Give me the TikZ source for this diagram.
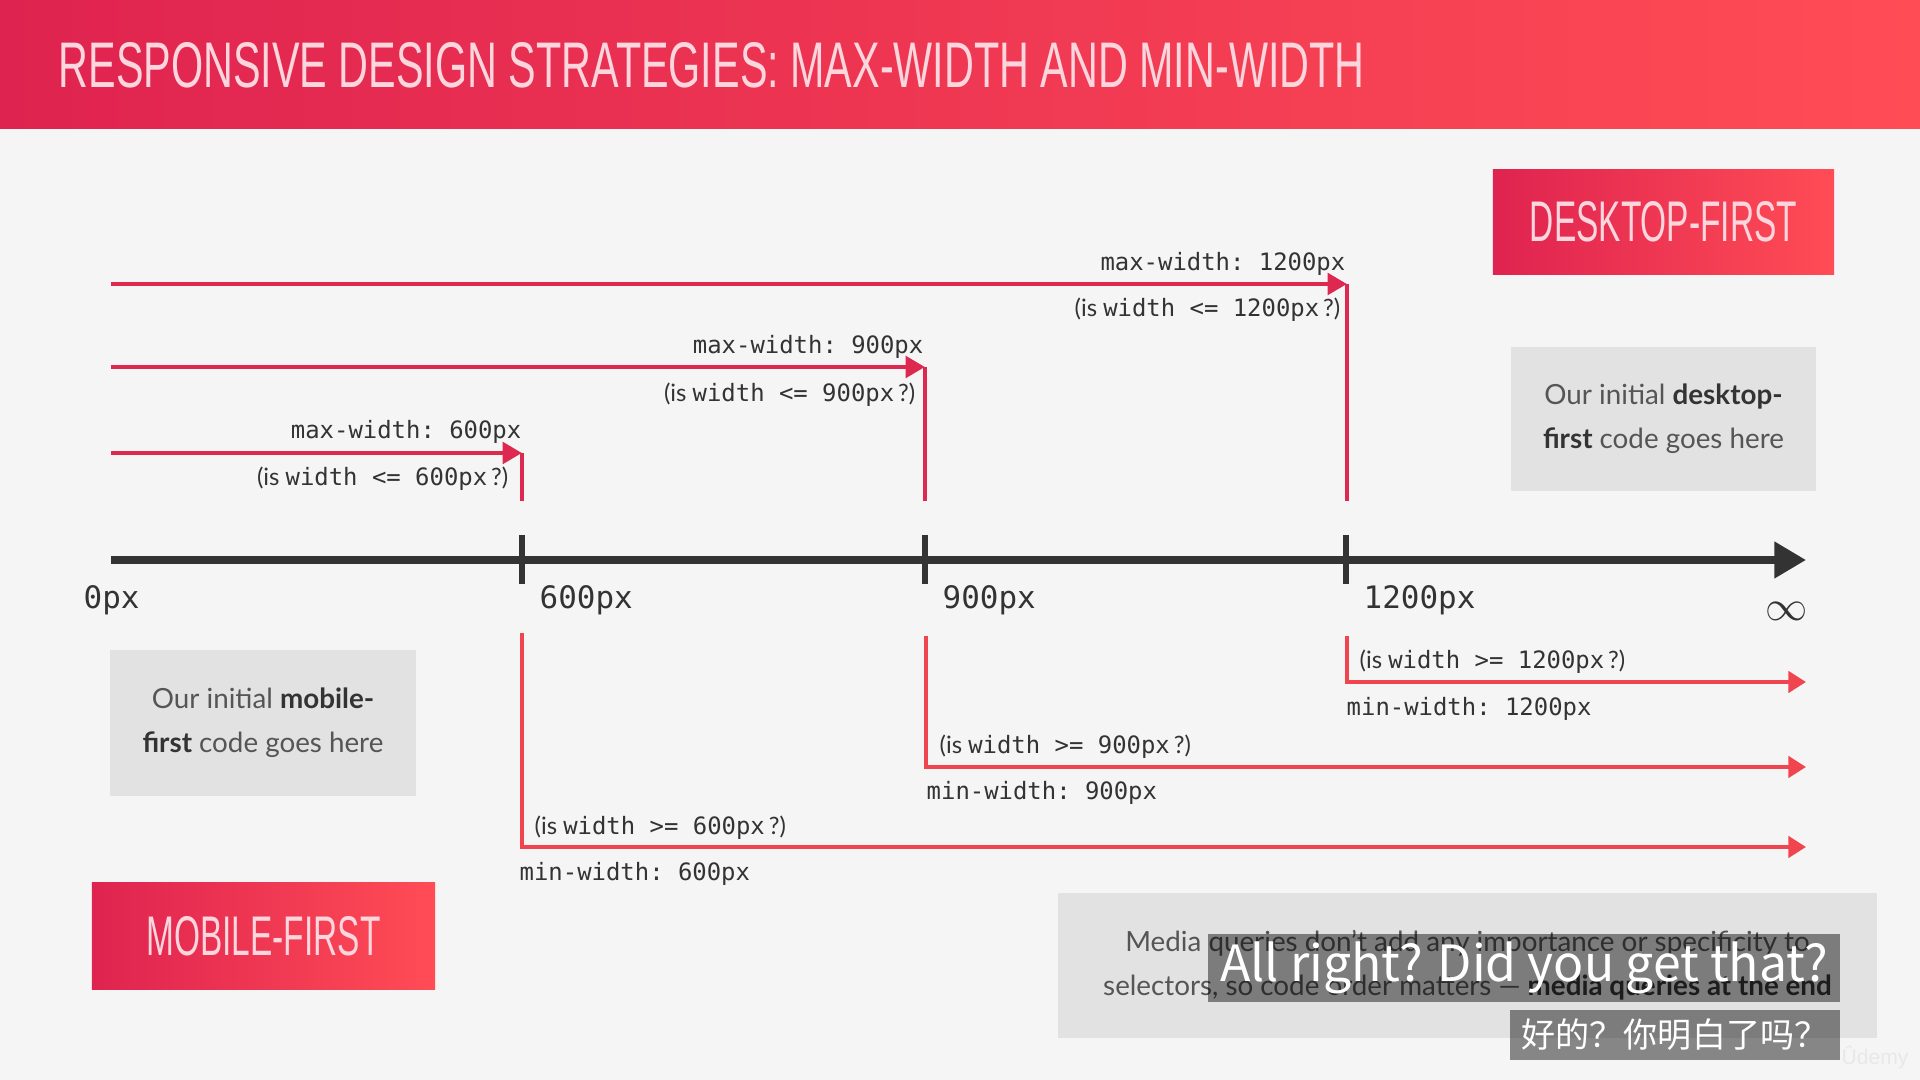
\documentclass[tikz,border=0pt]{standalone}
\usepackage{fontspec}
\usepackage{xcolor}
\usetikzlibrary{arrows.meta, positioning}
\setmainfont{Lato}
\setmonofont{DejaVu Sans Mono}
\newfontfamily\headfont{Liberation Sans}
\newfontfamily\subfont{Noto Sans CJK SC}
\definecolor{bgcol}{HTML}{F5F5F5}
\definecolor{redleft}{HTML}{DF2350}
\definecolor{redright}{HTML}{FF4C55}
\definecolor{maxred}{HTML}{DD2850}
\definecolor{minred}{HTML}{F0454F}
\definecolor{axiscol}{HTML}{333333}
\definecolor{boxgray}{HTML}{E2E2E2}
\definecolor{txtgray}{HTML}{555555}
\definecolor{headtxt}{HTML}{FCD5DD}
\newcommand{\isq}[1]{{\rmfamily(is\ }width\ #1\,{\rmfamily?)}}

\begin{document}
\begin{tikzpicture}[x=0.01cm, y=-0.01cm,
		maxline/.style={maxred, line width=1.4pt},
		minline/.style={minred, line width=1.15pt},
		maxtip/.style={-{Triangle[length=5.5pt,width=6pt]}},
		mintip/.style={-{Triangle[length=5pt,width=6pt]}},
		codelbl/.style={font=\ttfamily\fontsize{6.8}{8}\selectfont, text=axiscol, inner sep=0},
		ticklbl/.style={font=\ttfamily\fontsize{8.8}{10}\selectfont, text=axiscol, inner sep=0},
		notebox/.style={fill=boxgray, text=txtgray, align=center, font=\fontsize{7.9}{12.5}\selectfont, inner sep=0},
		redbox/.style={left color=redleft, right color=redright, text=headtxt, inner sep=0},
		subbox/.style={fill=black, fill opacity=0.45, text opacity=1, text=white, inner sep=0, font=\subfont}]
			\useasboundingbox (0,0) rectangle (1920,1080);
			\fill[bgcol] (0,0) rectangle (1920,1080);
			\shade[left color=redleft, right color=redright] (0,0) rectangle (1920,129);
			\node[anchor=base west, inner sep=0, text=headtxt] (title) at (58,88) {\resizebox{13.05cm}{0.45cm}{\headfont RESPONSIVE DESIGN STRATEGIES: MAX-WIDTH AND MIN-WIDTH}};
			
			\node[redbox, minimum width=3.41cm, minimum height=1.04cm] (deskfirst) at (1663.5,222) {\resizebox{2.67cm}{0.40cm}{\headfont DESKTOP-FIRST}};
			\node[redbox, minimum width=3.43cm, minimum height=1.06cm] (mobfirst) at (263.5,936) {\resizebox{2.34cm}{0.39cm}{\headfont MOBILE-FIRST}};
			
			\node[notebox, minimum width=3.05cm, minimum height=1.44cm] (deskcode) at (1663.5,419) {Our initial \textbf{\color{axiscol}desktop-}\\\textbf{\color{axiscol}first} code goes here};
			\node[notebox, minimum width=3.06cm, minimum height=1.46cm] (mobcode) at (263,723) {Our initial \textbf{\color{axiscol}mobile-}\\\textbf{\color{axiscol}first} code goes here};
			\node[notebox, minimum width=8.19cm, minimum height=1.45cm] (orderbox) at (1467.5,965.5) {Media queries don’t add any importance or specificity to\\selectors, so code order matters — \textbf{\color{axiscol}media queries at the end}};
			
			\coordinate (zero) at (111,560);
			\coordinate (t600) at (522,560);
			\coordinate (t900) at (925,560);
			\coordinate (t1200) at (1346,560);
			\coordinate (inf) at (1806,560);
			\draw[axiscol, line width=2pt, -{Triangle[length=9pt,width=10pt]}] (zero) -- (inf);
			\draw[axiscol, line width=1.9pt] ([yshift=0.25cm]t600) -- ([yshift=-0.24cm]t600);
			\draw[axiscol, line width=1.9pt] ([yshift=0.25cm]t900) -- ([yshift=-0.24cm]t900);
			\draw[axiscol, line width=1.9pt] ([yshift=0.25cm]t1200) -- ([yshift=-0.24cm]t1200);
			
			\node[ticklbl, anchor=base west] (l0) at (83,609) {0px};
			\node[ticklbl, anchor=base west] (l600) at (539,609) {600px};
			\node[ticklbl, anchor=base west] (l900) at (942,609) {900px};
			\node[ticklbl, anchor=base west] (l1200) at (1363,609) {1200px};
			\node[font=\fontsize{12}{12}\selectfont, text=axiscol, inner sep=0] (linf) at (1787,611) {$\infty$};
			
			\coordinate (x600s) at (111,453);
			\coordinate (x600e) at (522,453);
			\coordinate (x600d) at (522,501);
			\draw[maxline, maxtip] (x600s) -- (x600e);
			\draw[maxline] (x600e) -- (x600d);
			\node[codelbl, anchor=base east] (x600lbl) at (522,439) {max-width: 600px};
			\node[codelbl, anchor=base east] (x600q) at (509,486) {\isq{<= 600px}};
			
			\coordinate (x900s) at (111,367);
			\coordinate (x900e) at (925,367);
			\coordinate (x900d) at (925,501);
			\draw[maxline, maxtip] (x900s) -- (x900e);
			\draw[maxline] (x900e) -- (x900d);
			\node[codelbl, anchor=base east] (x900lbl) at (924,354) {max-width: 900px};
			\node[codelbl, anchor=base east] (x900q) at (916,402) {\isq{<= 900px}};
			
			\coordinate (x1200s) at (111,284);
			\coordinate (x1200e) at (1347,284);
			\coordinate (x1200d) at (1347,501);
			\draw[maxline, maxtip] (x1200s) -- (x1200e);
			\draw[maxline] (x1200e) -- (x1200d);
			\node[codelbl, anchor=base east] (x1200lbl) at (1346,271) {max-width: 1200px};
			\node[codelbl, anchor=base east] (x1200q) at (1341,317) {\isq{<= 1200px}};
			
			\coordinate (n600t) at (522,633);
			\coordinate (n600c) at (522,847);
			\coordinate (n600e) at (1806,847);
			\draw[minline, mintip] (n600t) -- (n600c) -- (n600e);
			\node[codelbl, anchor=base west] (n600q) at (534,835) {\isq{>= 600px}};
			\node[codelbl, anchor=base west] (n600lbl) at (519,881) {min-width: 600px};
			
			\coordinate (n900t) at (926,636);
			\coordinate (n900c) at (926,767);
			\coordinate (n900e) at (1806,767);
			\draw[minline, mintip] (n900t) -- (n900c) -- (n900e);
			\node[codelbl, anchor=base west] (n900q) at (939,754) {\isq{>= 900px}};
			\node[codelbl, anchor=base west] (n900lbl) at (926,800) {min-width: 900px};
			
			\coordinate (n1200t) at (1347,636);
			\coordinate (n1200c) at (1347,682);
			\coordinate (n1200e) at (1806,682);
			\draw[minline, mintip] (n1200t) -- (n1200c) -- (n1200e);
			\node[codelbl, anchor=base west] (n1200q) at (1359,669) {\isq{>= 1200px}};
			\node[codelbl, anchor=base west] (n1200lbl) at (1346,716) {min-width: 1200px};
			
			\node[subbox, minimum width=6.32cm, minimum height=0.68cm, font=\subfont\fontsize{14.2}{14}\selectfont] (suben) at (1524,968) {All right? Did you get that?};
			\node[subbox, minimum width=3.30cm, minimum height=0.50cm, font=\subfont\fontsize{9.7}{10}\selectfont] (subzh) at (1675,1035) {好的？你明白了吗？};
			\node[font=\headfont\fontsize{6}{7}\selectfont, text=white!82!gray, inner sep=0] (udemy) at (1875,1057) {Ûdemy};
		\end{tikzpicture}
\end{document}
